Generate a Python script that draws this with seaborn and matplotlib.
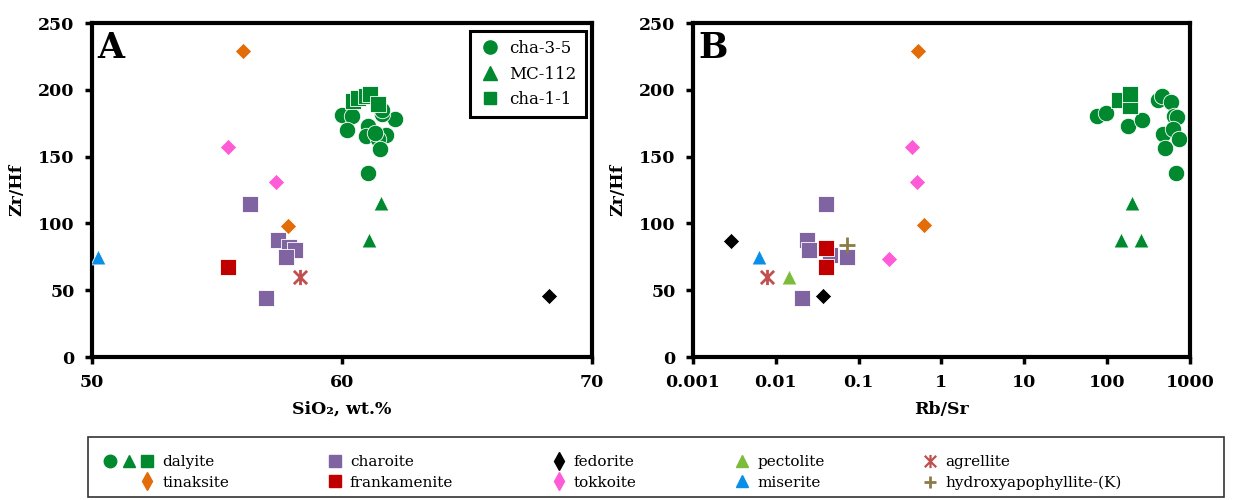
import pandas as pd
import matplotlib
matplotlib.use("Agg")
import matplotlib.pyplot as plt
from matplotlib.path import Path
from matplotlib.lines import Line2D
from matplotlib.patches import Rectangle
from matplotlib.legend_handler import HandlerTuple
from matplotlib.ticker import NullLocator
import seaborn as sns

# ---- data ----
# panel A: SiO2 (wt.%) vs Zr/Hf
a_cha35_x = [60.0, 60.39, 62.12, 61.59, 60.19, 61.05, 60.96, 61.76, 61.43, 61.52, 61.32, 61.04, 61.6]
a_cha35_y = [181, 180.6, 178, 182, 170, 173, 165.7, 166.4, 163, 156, 168, 138, 185]
a_cha11_x = [60.45, 60.65, 60.95, 61.12, 61.45]
a_cha11_y = [191.8, 193.7, 195.5, 196.7, 189]
a_mc112_x = [61.56, 61.07]
a_mc112_y = [115, 87.3]
a_tinaksite_x = [56.05, 57.85]
a_tinaksite_y = [229, 98]
a_tokkoite_x = [55.45, 57.35]
a_tokkoite_y = [157, 131]
a_charoite_x = [56.32, 57.43, 57.9, 58.12, 57.75, 56.96]
a_charoite_y = [114.7, 87.8, 82, 80, 75, 43.8]
a_frankamenite_x = [55.45]
a_frankamenite_y = [67.4]
a_agrellite_x = [58.32]
a_agrellite_y = [60]
a_miserite_x = [50.25]
a_miserite_y = [75]
a_fedorite_x = [68.28]
a_fedorite_y = [46]

# panel B: Rb/Sr vs Zr/Hf
b_cha35_x = [76.4, 97.3, 178, 267, 409, 457, 593, 644, 693, 470, 631, 741, 502, 676]
b_cha35_y = [180.6, 183, 173, 177.6, 192.3, 195.5, 190.5, 180.6, 180, 167, 170.7, 163, 156.4, 138]
b_cha11_x = [141, 190, 188, 192]
b_cha11_y = [192, 194, 188, 197]
b_mc112_x = [198.6, 146, 255]
b_mc112_y = [115, 87.3, 87.3]
b_tinaksite_x = [0.518, 0.617]
b_tinaksite_y = [229, 98.5]
b_tokkoite_x = [0.446, 0.512, 0.235]
b_tokkoite_y = [157, 131, 73]
b_charoite_x = [0.0404, 0.024, 0.0254, 0.0452, 0.0718, 0.0209]
b_charoite_y = [114.7, 87.8, 80, 76, 74.9, 43.8]
b_frankamenite_x = [0.0404, 0.0404]
b_frankamenite_y = [81.8, 67]
b_hydroxy_x = [0.0718]
b_hydroxy_y = [84]
b_agrellite_x = [0.00776]
b_agrellite_y = [60]
b_pectolite_x = [0.01456]
b_pectolite_y = [60]
b_miserite_x = [0.00627]
b_miserite_y = [74.9]
b_fedorite_x = [0.00285, 0.0368]
b_fedorite_y = [86.8, 45.8]

y_ticks = [0, 50, 100, 150, 200, 250]
a_x_ticks = [50, 60, 70]
b_x_ticks = [0.001, 0.01, 0.1, 1, 10, 100, 1000]
b_x_ticklabels = ["0.001", "0.01", "0.1", "1", "10", "100", "1000"]

# ---- styles ----
GREEN = "#00892F"
PURPLE = "#8064A2"
RED = "#C00000"
ORANGE = "#E36C09"
PINK = "#FF5BD7"
BLACK = "#000000"
BLUE = "#0A8FE8"
LGREEN = "#7DBB3C"
AGR = "#C0504D"
OLIVE = "#8C7B45"

# excel-like star: an X with a vertical bar
STAR = Path([(-1, -1), (1, 1), (-1, 1), (1, -1), (0, -1.15), (0, 1.15)],
            [Path.MOVETO, Path.LINETO, Path.MOVETO, Path.LINETO, Path.MOVETO, Path.LINETO])

sns.set_style("white")
plt.rcParams["font.family"] = ["DejaVu Serif"]
plt.rcParams["text.color"] = "black"
plt.rcParams["axes.labelcolor"] = "black"
plt.rcParams["xtick.color"] = "black"
plt.rcParams["ytick.color"] = "black"

S_CIRCLE, S_SQUARE, S_TRI, S_DIAM = 140, 125, 115, 70


def pts(ax, x, y, marker, color, s, line=False):
    if line:
        sns.scatterplot(x=x, y=y, marker=marker, color=color, edgecolor=color,
                        linewidth=2.0, s=s, ax=ax, zorder=3)
    else:
        sns.scatterplot(x=x, y=y, marker=marker, color=color, edgecolor="white",
                        linewidth=0.6, s=s, ax=ax, zorder=3)


def style_axes(ax):
    for sp in ax.spines.values():
        sp.set_visible(True)
        sp.set_linewidth(3)
        sp.set_color("black")
    ax.tick_params(axis="both", which="major", direction="out", length=5, width=2.5,
                   pad=7.5, labelsize=12.5, color="black", left=True, bottom=True)
    ax.set_ylim(0, 250)
    ax.set_yticks(y_ticks)
    for lab in ax.get_xticklabels() + ax.get_yticklabels():
        lab.set_fontweight("bold")
    ax.set_ylabel("Zr/Hf", fontsize=12.5, fontweight="bold", labelpad=9)


fig = plt.figure(figsize=(12.33, 5), dpi=100)
axA = fig.add_axes([0.0746, 0.286, 0.4055, 0.668])
axB = fig.add_axes([0.562, 0.286, 0.403, 0.668])

# panel A
pts(axA, a_tinaksite_x, a_tinaksite_y, "D", ORANGE, S_DIAM)
pts(axA, a_tokkoite_x, a_tokkoite_y, "D", PINK, S_DIAM)
pts(axA, a_charoite_x, a_charoite_y, "s", PURPLE, S_SQUARE)
pts(axA, a_frankamenite_x, a_frankamenite_y, "s", RED, S_SQUARE)
pts(axA, a_agrellite_x, a_agrellite_y, STAR, AGR, 120, line=True)
pts(axA, a_miserite_x, a_miserite_y, "^", BLUE, S_TRI)
pts(axA, a_fedorite_x, a_fedorite_y, "D", BLACK, S_DIAM)
pts(axA, a_mc112_x, a_mc112_y, "^", GREEN, S_TRI)
pts(axA, a_cha35_x, a_cha35_y, "o", GREEN, S_CIRCLE)
pts(axA, a_cha11_x, a_cha11_y, "s", GREEN, S_SQUARE)

axA.set_xlim(50, 70)
axA.set_xticks(a_x_ticks)
axA.set_xlabel("SiO\u2082, wt.%", fontsize=12.5, fontweight="bold", labelpad=7)
style_axes(axA)
axA.text(0.01, 0.975, "A", transform=axA.transAxes, fontsize=25, fontweight="bold",
         va="top", ha="left")

inset = [Line2D([], [], marker="o", color=GREEN, linestyle="none", markersize=9.5),
         Line2D([], [], marker="^", color=GREEN, linestyle="none", markersize=9.5),
         Line2D([], [], marker="s", color=GREEN, linestyle="none", markersize=9)]
legA = axA.legend(inset, ["cha-3-5", "MC-112", "cha-1-1"], loc="upper right",
                  bbox_to_anchor=(0.988, 0.976), borderaxespad=0, fontsize=12,
                  frameon=True, fancybox=False, framealpha=1, edgecolor="black",
                  handlelength=1.2, handletextpad=0.6, labelspacing=0.5, borderpad=0.55)
legA.get_frame().set_linewidth(2.2)

# panel B
pts(axB, b_tinaksite_x, b_tinaksite_y, "D", ORANGE, S_DIAM)
pts(axB, b_tokkoite_x, b_tokkoite_y, "D", PINK, S_DIAM)
pts(axB, b_charoite_x, b_charoite_y, "s", PURPLE, S_SQUARE)
pts(axB, b_frankamenite_x, b_frankamenite_y, "s", RED, S_SQUARE)
pts(axB, b_hydroxy_x, b_hydroxy_y, "+", OLIVE, 120, line=True)
pts(axB, b_agrellite_x, b_agrellite_y, STAR, AGR, 120, line=True)
pts(axB, b_pectolite_x, b_pectolite_y, "^", LGREEN, S_TRI)
pts(axB, b_miserite_x, b_miserite_y, "^", BLUE, S_TRI)
pts(axB, b_fedorite_x, b_fedorite_y, "D", BLACK, S_DIAM)
pts(axB, b_mc112_x, b_mc112_y, "^", GREEN, S_TRI)
pts(axB, b_cha35_x, b_cha35_y, "o", GREEN, S_CIRCLE)
pts(axB, b_cha11_x, b_cha11_y, "s", GREEN, S_SQUARE)

axB.set_xscale("log")
axB.set_xlim(0.001, 1000)
axB.set_xticks(b_x_ticks)
axB.set_xticklabels(b_x_ticklabels)
axB.xaxis.set_minor_locator(NullLocator())
axB.set_xlabel("Rb/Sr", fontsize=12.5, fontweight="bold", labelpad=7)
style_axes(axB)
axB.text(0.01, 0.975, "B", transform=axB.transAxes, fontsize=25, fontweight="bold",
         va="top", ha="left")

# bottom legend
blank = Line2D([], [], linestyle="none")


def mk(marker, color, ms=9, mew=1.0):
    return Line2D([], [], marker=marker, color=color, linestyle="none",
                  markersize=ms, markeredgewidth=mew)


handles = [
    (mk("o", GREEN), mk("^", GREEN), mk("s", GREEN, ms=8.5)),
    (blank, blank, mk("d", ORANGE)),
    (blank, blank, mk("s", PURPLE, ms=8.5)),
    (blank, blank, mk("s", RED, ms=8.5)),
    (blank, blank, mk("d", BLACK)),
    (blank, blank, mk("d", PINK)),
    (blank, blank, mk("^", LGREEN)),
    (blank, blank, mk("^", BLUE)),
    (blank, blank, mk(STAR, AGR, ms=9.5, mew=1.6)),
    (blank, blank, mk("+", OLIVE, ms=9, mew=2)),
]
labels = ["dalyite", "tinaksite", "charoite", "frankamenite", "fedorite", "tokkoite",
          "pectolite", "miserite", "agrellite", "hydroxyapophyllite-(K)"]
legB = fig.legend(handles, labels, loc="center left", ncol=5,
                  bbox_to_anchor=(0.0746, 0.055), borderaxespad=0,
                  handler_map={tuple: HandlerTuple(ndivide=None, pad=0)},
                  fontsize=11, frameon=False, handlelength=3.6, handletextpad=0.4,
                  columnspacing=3.9, labelspacing=0.45, borderpad=0.6)
fig.add_artist(Rectangle((0.0714, 0.006), 0.921, 0.120, transform=fig.transFigure,
                         fill=False, edgecolor="#333333", linewidth=1.2))

fig.savefig("out.png", dpi=100)
